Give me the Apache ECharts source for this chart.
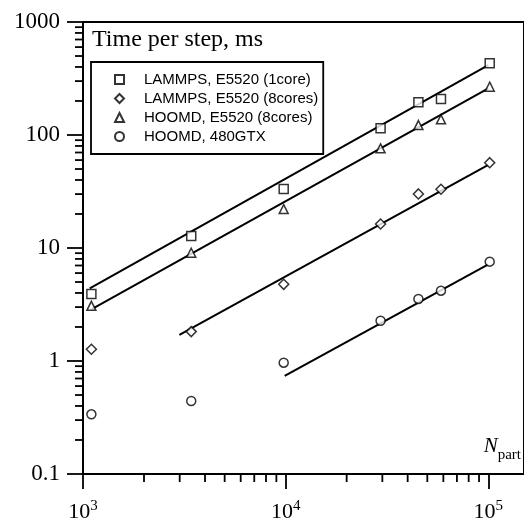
<!DOCTYPE html>
<html><head><meta charset="utf-8">
<style>html,body{margin:0;padding:0;background:#fff}#c{width:524px;height:524px}</style>
<script src="https://cdn.jsdelivr.net/npm/echarts@6.0.0/dist/echarts.min.js"></script>
</head><body><div id="c"></div>
<script>
// ---- data ----
const nPart = [1100, 3420, 9780, 29400, 45200, 58400, 101600];
const lammps1core = [3.92, 12.8, 33.3, 114.6, 194.6, 208.5, 431];
const lammps8cores = [1.27, 1.82, 4.77, 16.3, 30.1, 33.1, 56.9];
const hoomd8cores = [3.08, 9.08, 22.1, 76.2, 122.5, 137.7, 267.6];
const hoomdGtx = [0.3375, 0.4426, 0.966, 2.27, 3.54, 4.19, 7.57];
const fitLammps1 = [[1080, 4.40], [100000, 416]];
const fitLammps8 = [[2990, 1.70], [100000, 54.3]];
const fitHoomd8 = [[1105, 2.88], [100000, 259]];
const fitGtx = [[9890, 0.737], [100000, 7.18]];
const seriesNames = ['LAMMPS, E5520 (1core)', 'LAMMPS, E5520 (8cores)', 'HOOMD, E5520 (8cores)', 'HOOMD, 480GTX'];
const yTickLabels = ['0.1', '1', '10', '100', '1000'];
const xTickExponents = ['3', '4', '5'];
const titleText = 'Time per step, ms';

// minor tick values (log axes, 2..9 per decade)
const xMinor = [], yMinor = [];
for (let k = 3; k <= 4; k++) for (let m = 2; m <= 9; m++) xMinor.push([m * Math.pow(10, k), 0.1]);
for (let k = -1; k <= 2; k++) for (let m = 2; m <= 9; m++) yMinor.push([1000, m * Math.pow(10, k)]);

const serif = 'Liberation Serif';
const sans = 'Liberation Sans';
const chart = echarts.init(document.getElementById('c'), null, {renderer: 'canvas'});

function isPow10(v) { const l = Math.log10(v); return Math.abs(l - Math.round(l)) < 1e-6; }
function minorTick(dir) {
  return function (params, api) {
    const p = api.coord([api.value(0), api.value(1)]);
    const len = 8;
    const shape = dir === 'x'
      ? {x1: p[0], y1: p[1], x2: p[0], y2: p[1] + len}
      : {x1: p[0], y1: p[1], x2: p[0] - len, y2: p[1]};
    return {type: 'line', shape: shape, style: {stroke: '#000', lineWidth: 1.8}};
  };
}
const pts = arr => nPart.map((n, i) => [n, arr[i]]);
const symStyle = {color: '#fff', borderColor: '#000', borderWidth: 1.5};
function scatter(name, arr, symbol, size) {
  return {name: name, type: 'scatter', data: pts(arr), symbol: symbol, symbolSize: size,
    itemStyle: symStyle, z: 4, silent: true};
}
function fit(id, arr) {
  return {name: id, type: 'line', data: arr, symbol: 'none', lineStyle: {color: '#000', width: 2}, z: 3, silent: true};
}

chart.setOption({
  animation: false,
  backgroundColor: '#fff',
  grid: {left: 83, top: 22, bottom: 50, right: -10, show: true, borderColor: '#000', borderWidth: 2, backgroundColor: 'transparent'},
  title: [
    {text: titleText, left: 92, top: 28, padding: 0,
      textStyle: {fontFamily: serif, fontSize: 24, fontWeight: 'normal', color: '#000'}},
    {text: '{n|N}{s|part}', right: 3, top: 436, padding: 0,
      textStyle: {fontWeight: 'normal', rich: {
        n: {fontFamily: serif, fontSize: 21, fontStyle: 'italic', fontWeight: 'normal', color: '#000', lineHeight: 24, verticalAlign: 'top'},
        s: {fontFamily: serif, fontSize: 15, fontWeight: 'normal', color: '#000', lineHeight: 24, verticalAlign: 'bottom', padding: [0, 0, -3, 0]}
      }}}
  ],
  legend: {
    orient: 'vertical', left: 91, top: 62, padding: [10, 5, 10, 23],
    itemWidth: 9, itemHeight: 9, itemGap: 4,
    borderColor: '#000', borderWidth: 1.8, selectedMode: false,
    textStyle: {fontFamily: sans, fontSize: 15, color: '#000', padding: [0, 0, 0, 15]},
    data: seriesNames
  },
  xAxis: {
    type: 'log', logBase: 10, min: 1000, max: 150000,
    axisLine: {lineStyle: {color: '#000', width: 2}},
    axisTick: {show: true, length: 15, lineStyle: {color: '#000', width: 1.8}},
    splitLine: {show: false},
    axisLabel: {
      margin: 25, showMaxLabel: false,
      formatter: v => isPow10(v) ? '{b|10}{s|' + xTickExponents[Math.round(Math.log10(v)) - 3] + '}' : '',
      rich: {
        b: {fontFamily: serif, fontSize: 22, color: '#000', lineHeight: 24, verticalAlign: 'bottom'},
        s: {fontFamily: serif, fontSize: 15, color: '#000', lineHeight: 24, verticalAlign: 'top'}
      }
    }
  },
  yAxis: {
    type: 'log', logBase: 10, min: 0.1, max: 1000,
    axisLine: {lineStyle: {color: '#000', width: 2}},
    axisTick: {show: true, length: 16, lineStyle: {color: '#000', width: 1.8}},
    splitLine: {show: false},
    axisLabel: {
      margin: 23, fontFamily: serif, fontSize: 23, color: '#000',
      formatter: v => isPow10(v) ? yTickLabels[Math.round(Math.log10(v)) + 1] : ''
    }
  },
  series: [
    fit('fit1', fitLammps1), fit('fit2', fitLammps8), fit('fit3', fitHoomd8), fit('fit4', fitGtx),
    scatter(seriesNames[0], lammps1core, 'rect', 9),
    scatter(seriesNames[1], lammps8cores, 'diamond', 10),
    scatter(seriesNames[2], hoomd8cores, 'triangle', 9),
    scatter(seriesNames[3], hoomdGtx, 'circle', 9),
    {type: 'custom', data: xMinor, renderItem: minorTick('x'), clip: false, silent: true, z: 5},
    {type: 'custom', data: yMinor, renderItem: minorTick('y'), clip: false, silent: true, z: 5}
  ]
});
</script></body></html>
